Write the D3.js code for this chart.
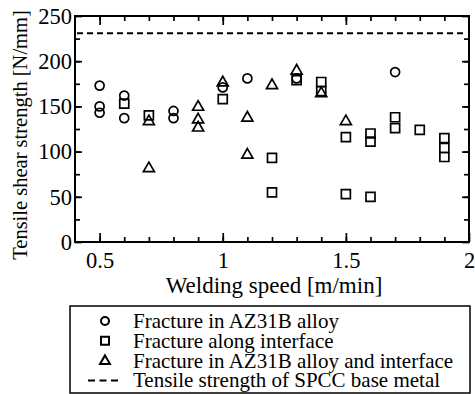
<!DOCTYPE html>
<html>
<head>
<meta charset="utf-8">
<script src="https://cdn.jsdelivr.net/npm/d3@7"></script>
<style>
	body{margin:0;background:#fff;}
	svg{display:block;}
	text{font-family:"Liberation Serif","Times New Roman",serif;fill:#000;}
</style>
</head>
<body>
<svg id="chart" width="475" height="394"></svg>
<script>
// welding speed [m/min], strength [N/mm]
var alloySpeed = [0.5,0.5,0.5,0.6,0.6,0.8,0.8,1.0,1.1,1.3,1.7];
var alloyStrength = [173,150,143,162,137,145,137,171,181,181,188];

var interfaceSpeed = [0.6,0.7,1.0,1.2,1.2,1.3,1.4,1.4,1.5,1.5,1.6,1.6,1.6,1.7,1.7,1.8,1.9,1.9,1.9];
var interfaceStrength = [153,140,158,93,55,179,177,167,116,53,120,111,50,138,126,124,115,104,94];

var bothSpeed = [0.7,0.7,0.9,0.9,0.9,1.0,1.1,1.1,1.2,1.3,1.4,1.5];
var bothStrength = [134,82,150,136,127,177,138,97,174,190,165,134];

var spccStrength = 231;

var xMajor = [0.5,1,1.5,2];
var xMinor = [0.5,0.6,0.7,0.8,0.9,1,1.1,1.2,1.3,1.4,1.5,1.6,1.7,1.8,1.9];
var yMajor = [0,50,100,150,200,250];
var yMinor = [25,50,75,100,125,150,175,200,225];

var legendLabels = ["Fracture in AZ31B alloy","Fracture along interface","Fracture in AZ31B alloy and interface","Tensile strength of SPCC base metal"];

var pl = 75, pr = 469, pt = 16, pb = 242;
var svg = d3.select("#chart");
var x = d3.scaleLinear().domain([0.4,2]).range([pl,pr]);
var y = d3.scaleLinear().domain([0,250]).range([pb,pt]);

function styleAxis(g){
	g.attr("font-family",null).attr("font-size",null);
	g.select(".domain").remove();
	g.selectAll("line").attr("stroke","#000").attr("stroke-width",1.7);
	g.selectAll("text").style("font-size","22.5px");
}

// minor ticks
svg.append("g").attr("transform","translate(0,"+pb+")").call(d3.axisBottom(x).tickValues(xMinor).tickSize(-5).tickFormat("")).call(styleAxis);
svg.append("g").attr("transform","translate(0,"+pt+")").call(d3.axisTop(x).tickValues(xMinor).tickSize(-5).tickFormat("")).call(styleAxis);
svg.append("g").attr("transform","translate("+pl+",0)").call(d3.axisLeft(y).tickValues(yMinor).tickSize(-5).tickFormat("")).call(styleAxis);
svg.append("g").attr("transform","translate("+pr+",0)").call(d3.axisRight(y).tickValues(yMinor).tickSize(-5).tickFormat("")).call(styleAxis);
// major ticks + labels
svg.append("g").attr("transform","translate(0,"+pb+")").call(d3.axisBottom(x).tickValues(xMajor).tickSize(-9).tickPadding(10).tickFormat(d3.format("~g"))).call(styleAxis);
svg.append("g").attr("transform","translate(0,"+pt+")").call(d3.axisTop(x).tickValues(xMajor.slice(0,3)).tickSize(-9).tickFormat("")).call(styleAxis);
svg.append("g").attr("transform","translate("+pl+",0)").call(d3.axisLeft(y).tickValues(yMajor).tickSize(-7).tickPadding(3)).call(styleAxis);
svg.append("g").attr("transform","translate("+pr+",0)").call(d3.axisRight(y).tickValues(yMajor).tickSize(-7).tickFormat("")).call(styleAxis);

svg.append("rect").attr("x",pl).attr("y",pt).attr("width",pr-pl).attr("height",pb-pt)
	.attr("fill","none").attr("stroke","#000").attr("stroke-width",2);

// SPCC base metal
svg.append("line").attr("x1",pl+2).attr("x2",pr-2).attr("y1",y(spccStrength)).attr("y2",y(spccStrength))
	.attr("stroke","#000").attr("stroke-width",2).attr("stroke-dasharray","6,4");

function marker(kind,s){
	if(kind=="circle") return d3.symbol().type(d3.symbolCircle).size(Math.PI*s*s/4)();
	if(kind=="square") return "M"+(-s/2)+","+(-s/2)+"h"+s+"v"+s+"h"+(-s)+"Z";
	var h = s*0.87;
	return "M0,"+(-h*0.6)+"L"+(s/2)+","+(h*0.4)+"L"+(-s/2)+","+(h*0.4)+"Z";
}

function drawSeries(xs,ys,kind,s){
	svg.append("g").selectAll("path").data(xs).enter().append("path")
		.attr("d",marker(kind,s))
		.attr("transform",function(d,i){return "translate("+x(d)+","+y(ys[i])+")";})
		.attr("fill","none").attr("stroke","#000").attr("stroke-width",1.7);
}
drawSeries(alloySpeed,alloyStrength,"circle",9);
drawSeries(interfaceSpeed,interfaceStrength,"square",9);
drawSeries(bothSpeed,bothStrength,"triangle",11);

// axis titles
svg.append("text").attr("x",(pl+pr)/2+2).attr("y",293).attr("text-anchor","middle").style("font-size","23px").text("Welding speed [m/min]");
svg.append("text").attr("transform","translate(27,135) rotate(-90)").attr("text-anchor","middle").style("font-size","20.5px").text("Tensile shear strength [N/mm]");

// legend
var lg = svg.append("g");
lg.append("rect").attr("x",70).attr("y",306).attr("width",400).attr("height",87)
	.attr("fill","none").attr("stroke","#000").attr("stroke-width",1.5);
var kinds = ["circle","square","triangle","line"];
legendLabels.forEach(function(t,i){
	var cy = 321+i*19.8;
	if(kinds[i]=="line"){
		lg.append("line").attr("x1",88).attr("x2",121).attr("y1",cy).attr("y2",cy)
			.attr("stroke","#000").attr("stroke-width",2).attr("stroke-dasharray","7,4.5");
	}else{
		lg.append("path").attr("d",marker(kinds[i],kinds[i]=="triangle"?10:8)).attr("transform","translate(105,"+cy+")")
			.attr("fill","none").attr("stroke","#000").attr("stroke-width",2);
	}
	lg.append("text").attr("x",133).attr("y",cy+7).style("font-size","21px").text(t);
});
</script>
</body>
</html>
